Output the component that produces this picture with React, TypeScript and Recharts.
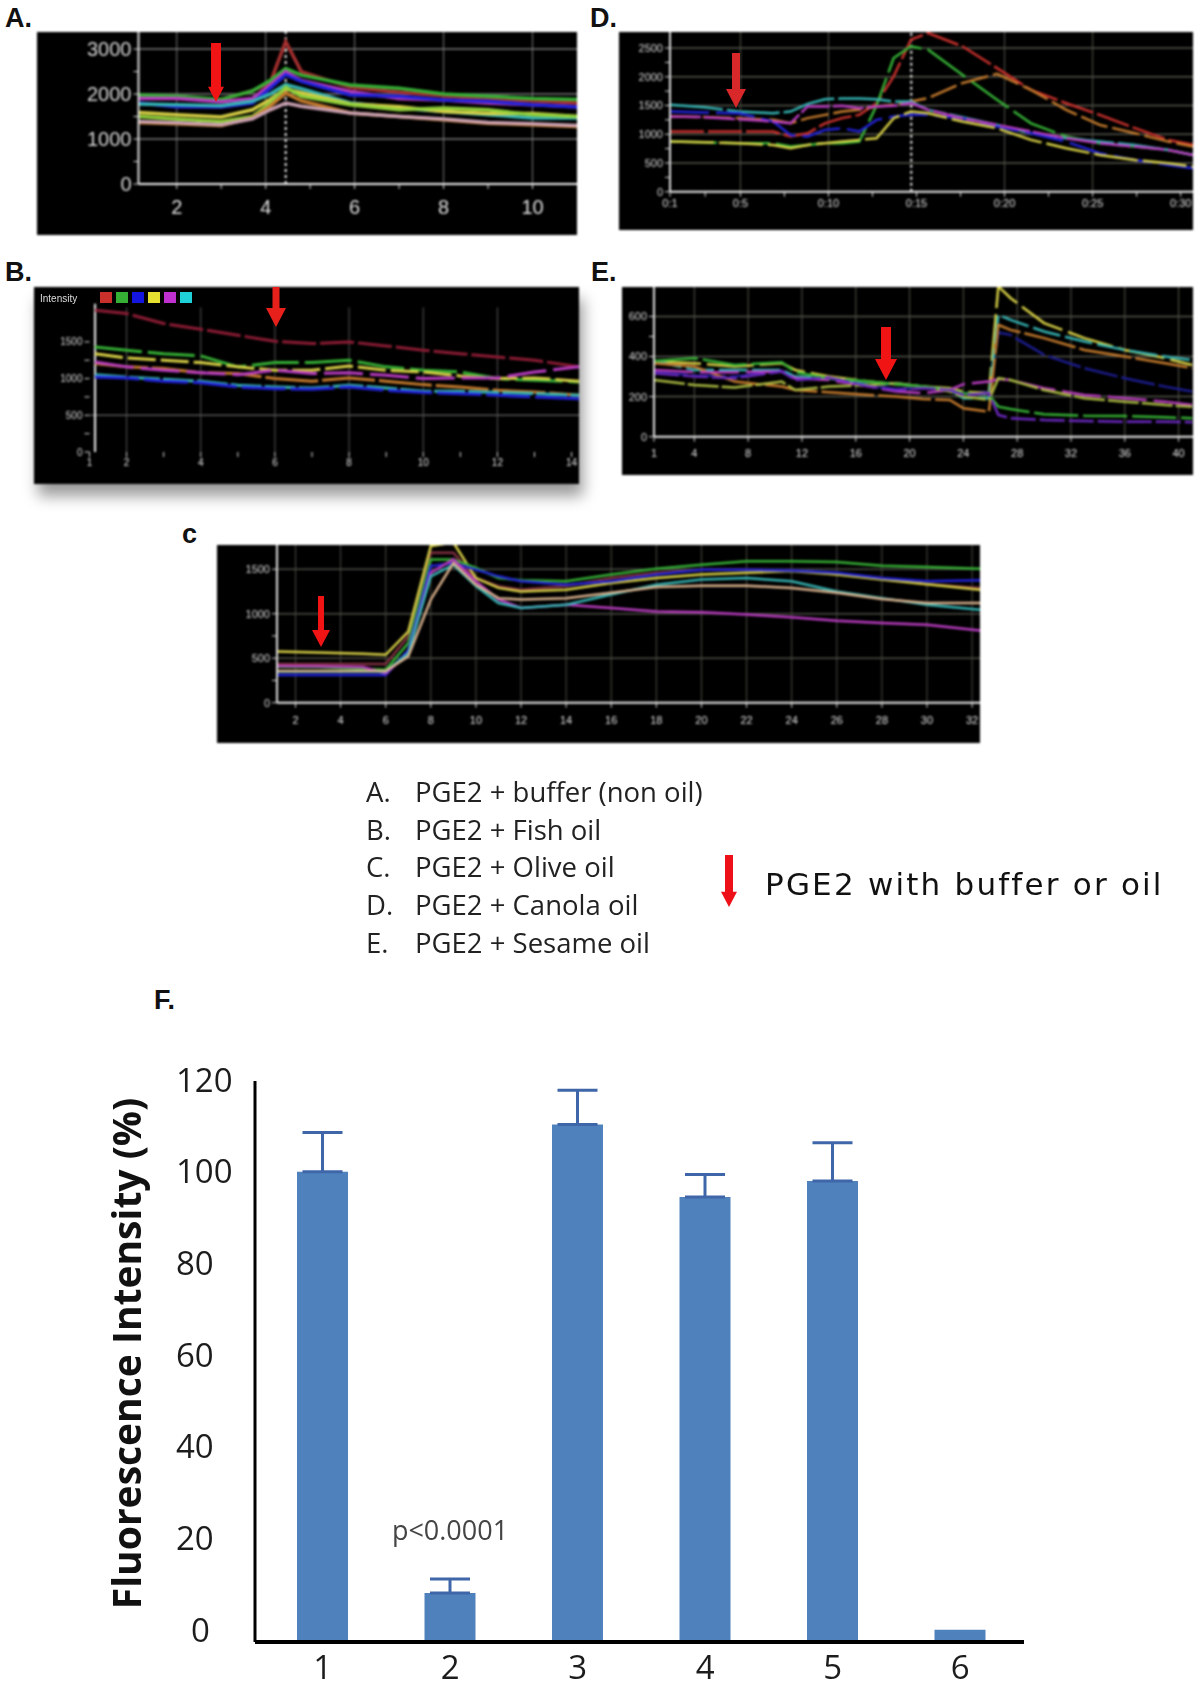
import React from "react";
import {
  Bar,
  BarChart,
  ErrorBar,
  LabelList,
  Line,
  LineChart,
  ReferenceLine,
  XAxis,
  YAxis,
} from "recharts";

const RED = "#c9302c";
const GREEN = "#35b035";
const BLUE = "#2222d8";
const YELLOW = "#d6cf45";
const MAGENTA = "#b93cc0";
const CYAN = "#35b3b3";
const ORANGE = "#c47a2c";
const PALE = "#c9a0b0";
const LIME = "#8fce3a";

// panel A
const aX = [1.14, 2, 3, 3.7, 4.1, 4.45, 4.8, 5.9, 7, 8, 9, 10, 11];
const aRed = [1950, 1920, 1880, 2070, 2250, 3170, 2500, 2150, 2040, 1960, 1880, 1850, 1800];
const aGreen = [1980, 1950, 1880, 2070, 2300, 2570, 2420, 2200, 2130, 2000, 1950, 1900, 1880];
const aMagenta = [1900, 1900, 1830, 1900, 2200, 2500, 2300, 2060, 1900, 1870, 1800, 1760, 1720];
const aBlue = [1800, 1720, 1710, 1800, 2130, 2430, 2280, 1980, 1950, 1870, 1840, 1760, 1710];
const aCyan = [1780, 1760, 1740, 1840, 2000, 2210, 2120, 1800, 1690, 1610, 1540, 1470, 1470];
const aYellow = [1590, 1540, 1490, 1650, 1880, 2110, 2030, 1780, 1720, 1610, 1570, 1570, 1500];
const aLime = [1500, 1445, 1390, 1500, 1800, 2150, 1950, 1760, 1650, 1690, 1650, 1540, 1500];
const aOrange = [1370, 1340, 1300, 1470, 1730, 2020, 1850, 1580, 1500, 1430, 1350, 1320, 1280];
const aPale = [1390, 1360, 1320, 1450, 1650, 1800, 1730, 1580, 1500, 1445, 1370, 1340, 1300];

// panel B
const bX = [1.15, 2, 3, 4, 5, 6, 7, 8, 9, 10, 11, 12, 13, 14.2];
const bRed = [1930, 1886, 1750, 1672, 1590, 1509, 1477, 1500, 1445, 1386, 1340, 1295, 1250, 1160];
const bGreen = [1432, 1386, 1340, 1309, 1160, 1218, 1218, 1250, 1160, 1113, 1090, 1000, 977, 955];
const bYellow = [1340, 1281, 1250, 1218, 1160, 1113, 1113, 1172, 1113, 1090, 1036, 1000, 1009, 964];
const bOrange = [1204, 1160, 1136, 1081, 1068, 1000, 964, 1009, 964, 918, 886, 840, 818, 772];
const bMagenta = [1227, 1160, 1113, 1081, 1054, 1113, 1068, 1081, 1045, 1000, 1009, 1009, 1090, 1160];
const bCyan = [1054, 1022, 990, 964, 909, 886, 872, 909, 872, 827, 827, 809, 795, 772];
const bBlue = [1022, 1009, 964, 945, 886, 863, 854, 886, 840, 809, 795, 772, 750, 727];
const legendSwatches = [RED, GREEN, "#1515e0", "#e6e030", "#c030d0", "#20d0d8"];

// panel C
const cX = [1.18, 3, 5, 6, 7, 8, 9, 10, 11, 12, 14, 16, 18, 20, 22, 24, 26, 28, 30, 32.35];
const cYellow = [575, 564, 550, 538, 800, 1760, 1800, 1400, 1290, 1250, 1270, 1345, 1400, 1440, 1460, 1480, 1440, 1385, 1330, 1270];
const cGreen = [405, 400, 380, 370, 670, 1610, 1610, 1515, 1400, 1375, 1365, 1440, 1505, 1550, 1590, 1590, 1580, 1540, 1525, 1505];
const cBlue = [310, 310, 310, 310, 590, 1535, 1570, 1495, 1420, 1365, 1325, 1365, 1440, 1495, 1495, 1485, 1460, 1400, 1365, 1375];
const cMagenta = [413, 410, 400, 330, 555, 1460, 1610, 1365, 1160, 1065, 1100, 1065, 1025, 1015, 990, 960, 920, 895, 875, 810];
const cCyan = [350, 350, 350, 350, 555, 1420, 1550, 1310, 1120, 1065, 1100, 1215, 1325, 1385, 1400, 1365, 1250, 1175, 1100, 1045];
const cPale = [355, 355, 355, 355, 520, 1160, 1570, 1325, 1175, 1160, 1175, 1235, 1300, 1315, 1315, 1290, 1235, 1165, 1120, 1120];
const cRed = [435, 435, 435, 435, 745, 1685, 1685, 1400, 1310, 1270, 1310, 1400, 1460, 1495, 1495, 1485, 1450, 1400, 1330, 1290];

// panel D
const dX = [1, 2.95, 4.91, 6.86, 7.84, 8.82, 9.8, 10.77, 11.75, 12.73, 13.7, 14.68, 15.66, 17.6, 19.57, 21.5, 23.5, 25.4, 27.4, 29.3, 30.7];
const dRed = [1047, 1047, 1047, 1047, 960, 1017, 1190, 1280, 1337, 1540, 2005, 2645, 2760, 2530, 2150, 1770, 1540, 1337, 1105, 900, 815];
const dGreen = [872, 860, 843, 843, 785, 814, 843, 843, 872, 1500, 2325, 2530, 2470, 2035, 1600, 1190, 960, 843, 785, 727, 640];
const dOrange = [1308, 1300, 1280, 1250, 1190, 1280, 1337, 1395, 1424, 1483, 1512, 1570, 1628, 1890, 2052, 1773, 1424, 1163, 1017, 872, 785];
const dCyan = [1512, 1470, 1395, 1366, 1395, 1529, 1610, 1622, 1622, 1610, 1570, 1570, 1424, 1297, 1163, 1017, 930, 872, 814, 727, 640];
const dMagenta = [1308, 1297, 1262, 1221, 1190, 1483, 1483, 1495, 1454, 1483, 1495, 1541, 1424, 1279, 1163, 1047, 930, 843, 785, 727, 640];
const dBlue = [1395, 1380, 1366, 1221, 988, 960, 1076, 1105, 1047, 1250, 1308, 1337, 1337, 1279, 1134, 1017, 872, 669, 552, 465, 407];
const dYellow = [872, 860, 843, 814, 756, 814, 843, 872, 901, 930, 1279, 1395, 1366, 1221, 1105, 901, 756, 640, 552, 494, 436];

// panel E
const eX = [1, 4, 7, 10.5, 11.5, 14, 17, 19, 21, 23, 24, 25.9, 26.6, 27.5, 30, 33, 36, 39, 41];
const eYellow = [375, 367, 350, 367, 333, 300, 275, 262, 250, 242, 225, 217, 750, 692, 567, 492, 433, 392, 358];
const eCyan = [378, 333, 333, 333, 300, 292, 258, 267, 250, 233, 192, 192, 608, 583, 525, 475, 433, 400, 383];
const eOrange = [367, 350, 275, 250, 233, 222, 208, 200, 188, 183, 142, 125, 558, 533, 492, 433, 400, 367, 342];
const eMagenta = [333, 322, 322, 325, 292, 283, 250, 225, 217, 233, 262, 275, 288, 283, 242, 208, 192, 175, 158];
const eGreen = [378, 392, 358, 372, 322, 292, 275, 262, 250, 233, 217, 208, 150, 138, 112, 105, 103, 97, 92];
const eOlive = [283, 258, 245, 275, 233, 250, 258, 267, 250, 225, 200, 183, 292, 283, 233, 192, 175, 158, 150];
const eViolet = [317, 300, 292, 325, 283, 295, 250, 233, 242, 233, 208, 217, 108, 92, 83, 78, 75, 75, 72];
const eBlue = [322, 305, 300, 330, 288, 300, 255, 238, 245, 238, 215, 225, 520, 508, 408, 342, 292, 250, 225];

// panel F
const fCategories = ["1", "2", "3", "4", "5", "6"];
const fValues = [100.6, 10.5, 110.7, 95.2, 98.6, 2.6];
const fErrors = [8.4, 3, 7.3, 4.8, 8.2, null];
const fNotes = ["", "p<0.0001", "", "", "", ""];
const fTicks = [0, 20, 40, 60, 80, 100, 120];

const legendLines = [
  ["A.", "PGE2 + buffer (non oil)"],
  ["B.", "PGE2 + Fish oil"],
  ["C.", "PGE2 + Olive oil"],
  ["D.", "PGE2 + Canola oil"],
  ["E.", "PGE2 + Sesame oil"],
];

// broken-up traces: each one gets its own rhythm so the gaps don't line up
const dashStyles = ["34 4", "47 6", "28 5", "53 4", "39 7", "31 3", "44 5", "25 4"];

const fRows = fCategories.map((name, i) => ({
  name,
  value: fValues[i],
  errorRange: fErrors[i] === null ? null : [0, fErrors[i]],
  note: fNotes[i],
}));

type Trace = { name: string; color: string; values: number[] };

const toRows = (xs: number[], traces: Trace[]) =>
  xs.map((x, i) => {
    const row: Record<string, number> = { x };
    traces.forEach((t) => {
      row[t.name] = t.values[i];
    });
    return row;
  });

type ScopeProps = {
  frame: { left: number; top: number; width: number; height: number };
  axisLeft: number;
  axisBottom: number;
  xs: number[];
  traces: Trace[];
  xDomain: [number, number];
  yMax: number;
  xTicks: number[];
  xLabels: number[];
  xFormat?: (v: number) => string;
  xGrid: number[];
  yTicks: number[];
  yLabels: number[];
  yGrid: number[];
  fontSize: number;
  lineWidth?: number;
  dashed?: boolean;
  marker?: number;
  baseline?: boolean;
  gridTop?: number;
  gridColor?: string;
  xTickMargin?: number;
  shadow?: boolean;
  spine?: { x: number; top: number };
};

function ScopePanel(p: ScopeProps) {
  const { frame } = p;
  const gridColor = p.gridColor ?? "#777";
  return (
    <div
      style={{
        position: "absolute",
        ...frame,
        background: "#000",
        filter: "blur(0.8px)",
        boxShadow: p.shadow ? "4px 12px 14px rgba(0,0,0,0.4)" : undefined,
      }}
    >
      <LineChart
        width={frame.width}
        height={frame.height}
        data={toRows(p.xs, p.traces)}
        margin={{ top: 0, right: 0, bottom: 0, left: 0 }}
      >
        <XAxis
          dataKey="x"
          type="number"
          domain={p.xDomain}
          allowDataOverflow
          ticks={p.xTicks}
          interval={0}
          height={frame.top + frame.height - p.axisBottom}
          tick={{ fill: "#e0e0e0", fontSize: p.fontSize, fontFamily: "Liberation Sans" }}
          tickFormatter={(v: number) =>
            p.xLabels.includes(v) ? (p.xFormat ? p.xFormat(v) : String(v)) : ""
          }
          tickLine={{ stroke: "#ddd" }}
          tickSize={5}
          tickMargin={p.xTickMargin ?? 2}
          axisLine={p.baseline === false ? false : { stroke: "#eee", strokeWidth: 2 }}
        />
        <YAxis
          type="number"
          domain={[0, p.yMax]}
          allowDataOverflow
          ticks={p.yTicks}
          interval={0}
          width={p.axisLeft - frame.left}
          tick={{ fill: "#d8d8d8", fontSize: p.fontSize, fontFamily: "Liberation Sans" }}
          tickFormatter={(v: number) => (p.yLabels.includes(v) ? String(v) : "")}
          tickLine={{ stroke: "#ddd" }}
          tickSize={5}
          axisLine={p.spine ? false : { stroke: "#ddd", strokeWidth: 2 }}
        />
        {p.yGrid.map((v) => (
          <ReferenceLine key={`h${v}`} y={v} stroke={gridColor} strokeWidth={1.5} />
        ))}
        {p.xGrid.map((v) =>
          p.gridTop ? (
            <ReferenceLine
              key={`v${v}`}
              segment={[
                { x: v, y: 0 },
                { x: v, y: p.gridTop },
              ]}
              stroke={gridColor}
            />
          ) : (
            <ReferenceLine key={`v${v}`} x={v} stroke={gridColor} />
          ),
        )}
        {p.spine && (
          <ReferenceLine
            segment={[
              { x: p.spine.x, y: 0 },
              { x: p.spine.x, y: p.spine.top },
            ]}
            stroke="#eee"
            strokeWidth={2}
          />
        )}
        {p.marker !== undefined && (
          <ReferenceLine x={p.marker} stroke="#eee" strokeWidth={2} strokeDasharray="3 3" />
        )}
        {p.traces.map((t, i) => (
          <Line
            key={t.name}
            dataKey={t.name}
            type="linear"
            stroke={t.color}
            strokeWidth={p.lineWidth ?? 2}
            strokeDasharray={p.dashed ? dashStyles[i % dashStyles.length] : undefined}
            dot={false}
            isAnimationActive={false}
          />
        ))}
      </LineChart>
    </div>
  );
}

function RedArrow({
  x,
  top,
  bottom,
  shaft,
  head,
  color = "#f01414",
}: {
  x: number;
  top: number;
  bottom: number;
  shaft: number;
  head: number;
  color?: string;
}) {
  const h = bottom - top;
  const neck = h - head * 0.95;
  return (
    <svg
      width={head}
      height={h}
      style={{ position: "absolute", left: x - head / 2, top, filter: "blur(0.5px)" }}
    >
      <polygon
        fill={color}
        points={`${(head - shaft) / 2},0 ${(head + shaft) / 2},0 ${(head + shaft) / 2},${neck} ${head},${neck} ${head / 2},${h} 0,${neck} ${(head - shaft) / 2},${neck}`}
      />
    </svg>
  );
}

function PanelLetter({ text, left, top }: { text: string; left: number; top: number }) {
  return (
    <div
      style={{
        position: "absolute",
        left,
        top,
        fontFamily: "Liberation Sans",
        fontWeight: 700,
        fontSize: 27,
        lineHeight: "32px",
        color: "#111",
        whiteSpace: "nowrap",
      }}
    >
      {text}
    </div>
  );
}

const fLabelShift = (v: number) => -2 - (120 - v) * 0.09;

function FluorescenceTick({ y, payload }: any) {
  const v = payload.value;
  return (
    <text
      x={v === 0 ? 191 - 100 : 176 - 100}
      y={y + fLabelShift(v)}
      dominantBaseline="central"
      fontFamily="Open Sans"
      fontSize={33}
      fill="#1c1c1c"
    >
      {v}
    </text>
  );
}

export default function App() {
  return (
    <div style={{ position: "absolute", left: 0, top: 0, width: 1200, height: 1690, background: "#fff", overflow: "hidden" }}>
      <PanelLetter text="A." left={5} top={2} />
      <PanelLetter text="B." left={5} top={256} />
      <PanelLetter text="D." left={590} top={2} />
      <PanelLetter text="E." left={591} top={256} />
      <PanelLetter text="c" left={182} top={518} />
      <PanelLetter text="F." left={154} top={984} />

      <ScopePanel
        frame={{ left: 37, top: 32, width: 540, height: 203 }}
        axisLeft={138.5}
        axisBottom={184}
        xs={aX}
        traces={[
          { name: "red", color: "#a83030", values: aRed },
          { name: "green", color: GREEN, values: aGreen },
          { name: "magenta", color: MAGENTA, values: aMagenta },
          { name: "blue", color: BLUE, values: aBlue },
          { name: "cyan", color: CYAN, values: aCyan },
          { name: "yellow", color: YELLOW, values: aYellow },
          { name: "lime", color: LIME, values: aLime },
          { name: "orange", color: ORANGE, values: aOrange },
          { name: "pale", color: PALE, values: aPale },
        ]}
        xDomain={[1.14, 11]}
        yMax={3380}
        xTicks={[2, 3, 4, 5, 6, 7, 8, 9, 10]}
        xLabels={[2, 4, 6, 8, 10]}
        xGrid={[2, 4, 6, 8, 10]}
        yTicks={[0, 500, 1000, 1500, 2000, 2500, 3000]}
        yLabels={[0, 1000, 2000, 3000]}
        yGrid={[1000, 2000, 3000]}
        fontSize={20}
        lineWidth={3.5}
        marker={4.45}
        xTickMargin={11}
      />

      <ScopePanel
        frame={{ left: 34, top: 287, width: 545, height: 197 }}
        axisLeft={89.5}
        axisBottom={452}
        xs={bX}
        traces={[
          { name: "red", color: "#8c1c34", values: bRed },
          { name: "green", color: GREEN, values: bGreen },
          { name: "yellow", color: YELLOW, values: bYellow },
          { name: "orange", color: ORANGE, values: bOrange },
          { name: "magenta", color: MAGENTA, values: bMagenta },
          { name: "cyan", color: CYAN, values: bCyan },
          { name: "blue", color: BLUE, values: bBlue },
        ]}
        xDomain={[1, 14.2]}
        yMax={2248}
        xTicks={[1, 2, 3, 4, 5, 6, 7, 8, 9, 10, 11, 12, 13, 14]}
        xLabels={[1, 2, 4, 6, 8, 10, 12, 14]}
        xGrid={[2, 4, 6, 8, 10, 12]}
        gridTop={1970}
        gridColor="#555"
        yTicks={[0, 250, 500, 750, 1000, 1250, 1500]}
        yLabels={[0, 500, 1000, 1500]}
        yGrid={[500]}
        fontSize={10}
        lineWidth={3}
        dashed
        baseline={false}
        shadow
        spine={{ x: 1.15, top: 2020 }}
      />
      <svg width={170} height={16} style={{ position: "absolute", left: 36, top: 290, filter: "blur(0.6px)" }}>
        <text x={4} y={12} fontSize={10} fill="#ddd" fontFamily="Liberation Sans">
          Intensity
        </text>
        {legendSwatches.map((c, i) => (
          <rect key={c} x={64 + i * 16} y={2} width={12} height={11} fill={c} />
        ))}
      </svg>

      <ScopePanel
        frame={{ left: 217, top: 545, width: 763, height: 198 }}
        axisLeft={277}
        axisBottom={702.7}
        xs={cX}
        traces={[
          { name: "red", color: "#803040", values: cRed },
          { name: "yellow", color: YELLOW, values: cYellow },
          { name: "green", color: GREEN, values: cGreen },
          { name: "blue", color: BLUE, values: cBlue },
          { name: "magenta", color: MAGENTA, values: cMagenta },
          { name: "cyan", color: CYAN, values: cCyan },
          { name: "pale", color: "#d8b08c", values: cPale },
        ]}
        xDomain={[1.18, 32.35]}
        yMax={1772}
        xTicks={[2, 4, 6, 8, 10, 12, 14, 16, 18, 20, 22, 24, 26, 28, 30, 32]}
        xLabels={[2, 4, 6, 8, 10, 12, 14, 16, 18, 20, 22, 24, 26, 28, 30, 32]}
        xGrid={[2, 4, 6, 8, 10, 12, 14, 16, 18, 20, 22, 24, 26, 28, 30, 32]}
        gridColor="#4c4c44"
        yTicks={[0, 250, 500, 750, 1000, 1500]}
        yLabels={[0, 500, 1000, 1500]}
        yGrid={[500, 1000, 1500]}
        fontSize={11}
        lineWidth={2.5}
        xTickMargin={8}
      />

      <ScopePanel
        frame={{ left: 619, top: 32, width: 574, height: 198 }}
        axisLeft={670}
        axisBottom={191.7}
        xs={dX}
        traces={[
          { name: "red", color: RED, values: dRed },
          { name: "green", color: GREEN, values: dGreen },
          { name: "orange", color: ORANGE, values: dOrange },
          { name: "cyan", color: CYAN, values: dCyan },
          { name: "blue", color: BLUE, values: dBlue },
          { name: "magenta", color: MAGENTA, values: dMagenta },
          { name: "yellow", color: YELLOW, values: dYellow },
        ]}
        xDomain={[1, 30.7]}
        yMax={2779}
        xTicks={[1, 3, 5, 7.5, 10, 12.5, 15, 17.5, 20, 22.5, 25, 27.5, 30]}
        xLabels={[1, 5, 10, 15, 20, 25, 30]}
        xFormat={(v) => `0:${v}`}
        xGrid={[5, 10, 20, 25]}
        gridColor="#55554c"
        yTicks={[0, 250, 500, 750, 1000, 1250, 1500, 1750, 2000, 2250, 2500]}
        yLabels={[0, 500, 1000, 1500, 2000, 2500]}
        yGrid={[500, 1000, 1500, 2000, 2500]}
        fontSize={11}
        lineWidth={2.5}
        dashed
        marker={14.7}
      />

      <ScopePanel
        frame={{ left: 622, top: 287, width: 571, height: 188 }}
        axisLeft={654}
        axisBottom={436.7}
        xs={eX}
        traces={[
          { name: "blue", color: "#1c1c90", values: eBlue },
          { name: "yellow", color: YELLOW, values: eYellow },
          { name: "cyan", color: CYAN, values: eCyan },
          { name: "orange", color: ORANGE, values: eOrange },
          { name: "magenta", color: MAGENTA, values: eMagenta },
          { name: "olive", color: "#a8b840", values: eOlive },
          { name: "green", color: GREEN, values: eGreen },
          { name: "violet", color: "#6a28c0", values: eViolet },
        ]}
        xDomain={[1, 41.07]}
        yMax={747}
        xTicks={[1, 4, 8, 12, 16, 20, 24, 28, 32, 36, 40]}
        xLabels={[1, 4, 8, 12, 16, 20, 24, 28, 32, 36, 40]}
        xGrid={[1, 4, 8, 12, 16, 20, 24, 28, 32, 36, 40]}
        gridColor="#55554c"
        yTicks={[0, 200, 400, 500, 600]}
        yLabels={[0, 200, 400, 600]}
        yGrid={[200, 400, 600]}
        fontSize={11}
        lineWidth={2.5}
        dashed
        xTickMargin={7}
      />

      <RedArrow x={216} top={43} bottom={102} shaft={10} head={16} />
      <RedArrow x={276} top={287} bottom={327} shaft={7} head={20} color="#e8201c" />
      <RedArrow x={321} top={596} bottom={647} shaft={6} head={18} />
      <RedArrow x={736} top={53} bottom={108} shaft={8} head={20} color="#d8282a" />
      <RedArrow x={886} top={327} bottom={380} shaft={10} head={22} />
      <RedArrow x={729} top={855} bottom={907} shaft={8} head={16} color="#ee1018" />

      {legendLines.map(([k, t], i) => (
        <div
          key={k}
          style={{
            position: "absolute",
            left: 366,
            top: 775 + i * 37.7,
            fontFamily: "Open Sans",
            fontSize: 27.5,
            lineHeight: "34px",
            color: "#222",
            whiteSpace: "nowrap",
            filter: "blur(0.5px)",
          }}
        >
          <span style={{ display: "inline-block", width: 49 }}>{k}</span>
          {t}
        </div>
      ))}
      <div
        style={{
          position: "absolute",
          left: 765,
          top: 866,
          fontFamily: "DejaVu Sans",
          fontSize: 31,
          lineHeight: "36px",
          letterSpacing: 2.2,
          color: "#111",
          whiteSpace: "nowrap",
          filter: "blur(0.5px)",
        }}
      >
        PGE2 with buffer or oil
      </div>

      <div style={{ position: "absolute", left: 100, top: 1060, filter: "blur(0.3px)" }}>
        <BarChart
          width={930}
          height={630}
          data={fRows}
          margin={{ top: 21, right: 6, bottom: 0, left: 0 }}
        >
          <XAxis
            dataKey="name"
            height={48}
            padding={{ left: 4, right: 0 }}
            axisLine={{ stroke: "#000", strokeWidth: 4 }}
            tickLine={false}
            tickMargin={8}
            tick={{ fill: "#1c1c1c", fontSize: 33, fontFamily: "Open Sans" }}
          />
          <YAxis
            type="number"
            domain={[0, 120]}
            ticks={fTicks}
            interval={0}
            width={155}
            axisLine={{ stroke: "#000", strokeWidth: 3 }}
            tickLine={false}
            tick={<FluorescenceTick />}
            label={{
              value: "Fluorescence Intensity (%)",
              angle: -90,
              position: "center",
              dx: -50,
              dy: -8,
              style: { fontFamily: "Open Sans", fontWeight: 700, fontSize: 39, fill: "#111" },
            }}
          />
          <Bar dataKey="value" fill="#4f81bd" barSize={51} isAnimationActive={false}>
            <ErrorBar
              dataKey="errorRange"
              direction="y"
              width={20}
              stroke="#3f66a8"
              strokeWidth={3}
              isAnimationActive={false}
            />
            <LabelList
              dataKey="note"
              position="top"
              offset={53}
              style={{ fontFamily: "Open Sans", fontSize: 27, fill: "#444" }}
            />
          </Bar>
        </BarChart>
      </div>
    </div>
  );
}
